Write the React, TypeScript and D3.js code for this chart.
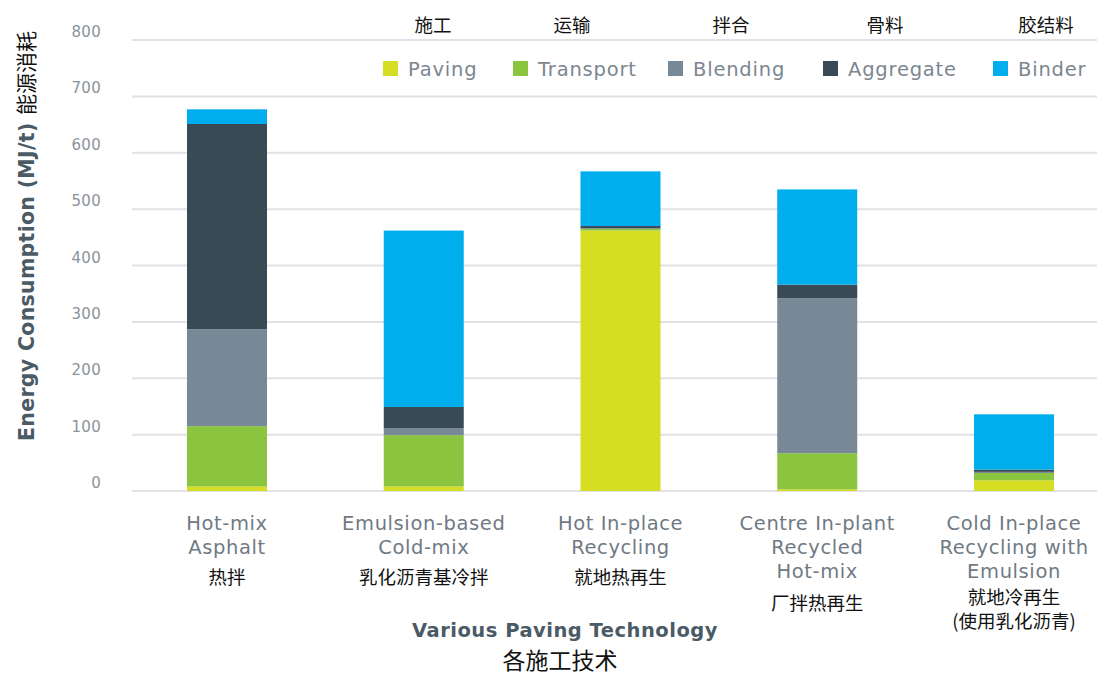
import React from "react";
import * as d3 from "d3";

const categories = ["Hot-mix Asphalt", "Emulsion-based Cold-mix", "Hot In-place Recycling", "Centre In-plant Recycled Hot-mix", "Cold In-place Recycling with Emulsion"];
const categoryLinesEn = [["Hot-mix", "Asphalt"], ["Emulsion-based", "Cold-mix"], ["Hot In-place", "Recycling"], ["Centre In-plant", "Recycled", "Hot-mix"], ["Cold In-place", "Recycling with", "Emulsion"]];
const categoryLinesZh = [["热拌"], ["乳化沥青基冷拌"], ["就地热再生"], ["厂拌热再生"], ["就地冷再生", "(使用乳化沥青)"]];

const seriesNames = ["Paving", "Transport", "Blending", "Aggregate", "Binder"];
const seriesNamesZh = ["施工", "运输", "拌合", "骨料", "胶结料"];
const paving = [8, 8, 462, 3, 19];
const transport = [107, 91, 3, 64, 13];
const blending = [172, 12, 1, 275, 2];
const aggregate = [364, 38, 4, 24, 4];
const binder = [26, 313, 97, 169, 98];
const yTicks = [0, 100, 200, 300, 400, 500, 600, 700, 800];

const colors = ["#d5de22", "#8bc53f", "#778897", "#384a54", "#00aeed"];

export default function App() {
  const seriesValues = [paving, transport, blending, aggregate, binder];
  const rows = categories.map((c, i) => {
    const r: any = { cat: c };
    seriesNames.forEach((s, k) => (r[s] = seriesValues[k][i]));
    return r;
  });
  const stack = d3.stack().keys(seriesNames)(rows);
  const y = d3.scaleLinear().domain([0, 800]).range([491, 40]);
  const x = d3.scalePoint().domain(categories).range([227, 1014]);
  const barW = 80;
  const gridX0 = 132;
  const gridX1 = 1097;
  const legendX = [383, 513, 668, 823, 993];
  const zhX = [433, 572, 731, 885, 1046];
  const enFont = "'DejaVu Sans', sans-serif";
  const zhFont = "'Noto Sans CJK SC', sans-serif";

  return (
    <svg width={1097} height={675} style={{ position: "absolute", left: 0, top: 0, background: "#fff" }}>
      {yTicks.map((t) => (
        <g key={t}>
          <line x1={gridX0} x2={gridX1} y1={y(t)} y2={y(t)} stroke="#e1e1e7" strokeWidth={2} />
          <text x={101} y={y(t) - 3} textAnchor="end" fontFamily={enFont} fontSize={15} letterSpacing={0.3} fill="#8b939a">{t}</text>
        </g>
      ))}
      {stack.map((layer, k) => (
        <g key={layer.key} fill={colors[k]}>
          {layer.map((d, i) => (
            <rect key={i} x={(x(categories[i]) as number) - barW / 2} width={barW} y={y(d[1])} height={Math.max(0, y(d[0]) - y(d[1]))} />
          ))}
        </g>
      ))}
      {seriesNames.map((s, k) => (
        <g key={s}>
          <rect x={legendX[k]} y={61} width={15} height={15} fill={colors[k]} />
          <text x={legendX[k] + 25} y={76} fontFamily={enFont} fontSize={19.5} letterSpacing={0.8} fill="#7b8690">{s}</text>
          <text x={zhX[k]} y={32} textAnchor="middle" fontFamily={zhFont} fontSize={18.5} fill="#111">{seriesNamesZh[k]}</text>
        </g>
      ))}
      {categories.map((c, i) => {
        const cx = x(c) as number;
        const en = categoryLinesEn[i];
        const zh = categoryLinesZh[i];
        const zhStart = 530 + (en.length - 1) * 24 + (en.length === 3 ? 32 : 30);
        return (
          <g key={c}>
            {en.map((l, j) => (
              <text key={j} x={cx} y={530 + j * 24} textAnchor="middle" fontFamily={enFont} fontSize={19.5} letterSpacing={0.6} fill="#6f7a84">{l}</text>
            ))}
            {zh.map((l, j) => (
              <text key={j} x={cx} y={zhStart + j * 24 - (en.length === 3 && zh.length > 1 ? 6 : 0)} textAnchor="middle" fontFamily={zhFont} fontSize={18.5} fill="#111">{l}</text>
            ))}
          </g>
        );
      })}
      <text x={565} y={637} textAnchor="middle" fontFamily={enFont} fontWeight={700} fontSize={19.5} letterSpacing={0.5} fill="#4b5b66">Various Paving Technology</text>
      <text x={560} y={669} textAnchor="middle" fontFamily={zhFont} fontSize={23} fill="#111">各施工技术</text>
      <text transform="translate(34,236) rotate(-90)" textAnchor="middle" fontFamily={enFont} fontWeight={700} fontSize={20.5} letterSpacing={0.3} fill="#4b5b66">
        Energy Consumption (MJ/t) <tspan fontFamily={zhFont} fontWeight={400} fontSize={21} letterSpacing={0} fill="#111">能源消耗</tspan>
      </text>
    </svg>
  );
}
